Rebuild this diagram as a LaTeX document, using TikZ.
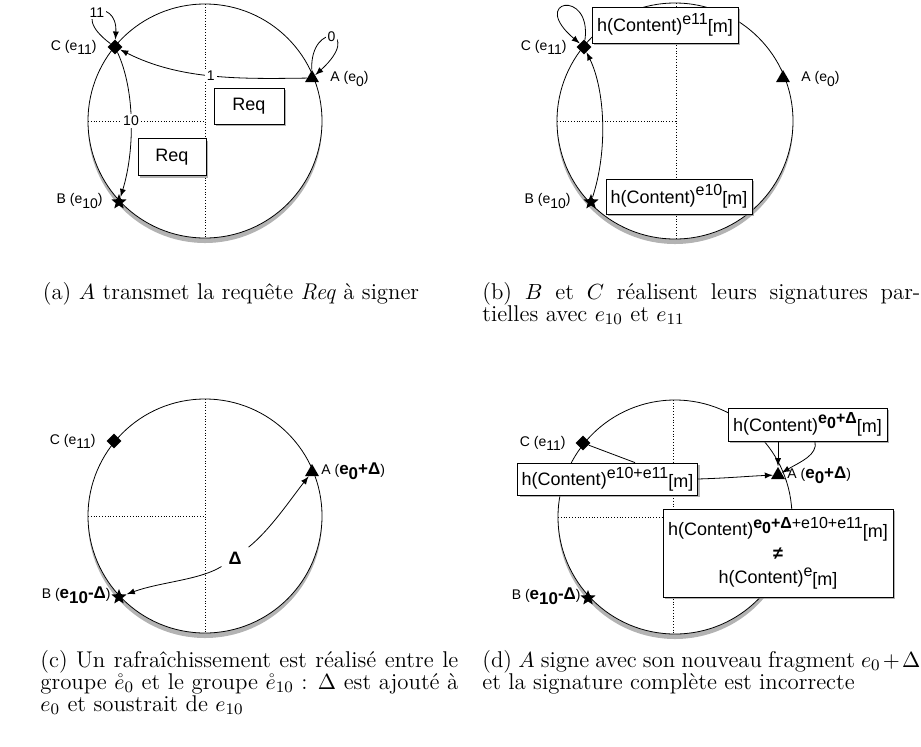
\documentclass[tikz,border=0pt]{standalone}
\usepackage{amsmath}
\usepackage{amssymb}
\usepackage{fontspec}
\newfontfamily\helv{Liberation Sans}
\usetikzlibrary{shapes.geometric,shadows}

\tikzset{
    ring/.style={draw, fill=white, drop shadow={shadow xshift=0pt, shadow yshift=-2.5pt, opacity=.6}},
    axe/.style={densely dotted},
    msg/.style={draw, fill=white, inner sep=2pt, font=\helv\fontsize{9}{11}\selectfont,
        drop shadow={shadow xshift=1.2pt, shadow yshift=-1.2pt, opacity=.6}},
    lbl/.style={inner sep=1pt, font=\helv\fontsize{7}{8}\selectfont},
    num/.style={fill=white, inner sep=1pt, font=\helv\fontsize{7}{8}\selectfont},
    legende/.style={inner sep=0pt, align=justify, font=\fontsize{11.4}{11}\selectfont},
    peerC/.style={diamond, fill, inner sep=0pt, minimum size=7.5pt},
    peerA/.style={regular polygon, regular polygon sides=3, fill, inner sep=0pt, minimum size=8pt},
    peerB/.style={star, star points=5, star point ratio=2.3, fill, inner sep=0pt, minimum size=8pt}
}
\newcommand{\sgdn}[1]{\raisebox{-0.55ex}{#1}}
\newcommand{\sgup}[1]{\raisebox{0.75ex}{\fontsize{8}{9}\selectfont #1}}
\newcommand{\hcont}[1]{h(Content)\sgup{#1}\raisebox{-0.15ex}{[m]}}
\newcommand{\bfe}[1]{\textbf{\fontsize{8.5}{9}\selectfont #1}}

\begin{document}
\begin{tikzpicture}[x=0.5pt, y=-0.5pt, >=latex]
        \useasboundingbox (0,0) rectangle (921,746);

        \draw[ring] (205,121) circle (117);
        \draw[axe] (205,4) -- (205,238);
        \draw[axe] (88,121) -- (205,121);
        \node[peerC] (Ca) at (115,47) {};
        \node[peerA] (Aa) at (312,78) {};
        \node[peerB] (Ba) at (119,202) {};
        \node[lbl, anchor=east] (lCa) at (99,47) {C (e\sgdn{11})};
        \node[lbl, anchor=west] (lAa) at (328,79) {A (e\sgdn{0})};
        \node[lbl, anchor=east] (lBa) at (105,201) {B (e\sgdn{10})};
        \node[msg, minimum width=35pt, minimum height=18pt] (req1) at (249,106) {Req};
        \node[msg, minimum width=34pt, minimum height=18.5pt] (req2) at (172,157) {Req};
        \draw[->] (Aa) .. controls (240,79) and (180,80) .. node[num]{1} (Ca);
        \draw[->] (Aa) .. controls (310,20) and (365,30) .. node[num]{0} (Aa);
        \draw[->] (Ca) .. controls (65,10) and (118,-5) .. node[num]{11} (Ca);
        \draw[->] (Ca) .. controls (135,90) and (135,150) .. node[num]{10} (Ba);
        \node[legende, anchor=north] (capa) at (231,282) {(a) $A$ transmet la requête \emph{Req} à signer};

        \draw[ring] (675,121) circle (118);
        \draw[axe] (676,3) -- (676,239);
        \draw[axe] (557,121) -- (676,121);
        \node[peerC] (Cb) at (584,47) {};
        \node[peerA] (Ab) at (783,78) {};
        \node[peerB] (Bb) at (591,202) {};
        \node[lbl, anchor=east] (lCb) at (569,47) {C (e\sgdn{11})};
        \node[lbl, anchor=west] (lAb) at (799,79) {A (e\sgdn{0})};
        \node[lbl, anchor=east] (lBb) at (573,201) {B (e\sgdn{10})};
        \node[msg, minimum width=73pt, minimum height=18pt] (sigC) at (665,25) {\hcont{e11}};
        \node[msg, minimum width=73pt, minimum height=17.5pt] (sigB) at (679,196.5) {\hcont{e10}};
        \draw[->] (Cb) .. controls (592,-12) and (528,0) .. (Cb);
        \draw[->] (Bb) .. controls (608,150) and (605,90) .. (Cb);
        \node[legende, anchor=north west, text width=219pt] (capb) at (482,282)
            {(b) $B$ et $C$ réalisent leurs signatures par-\linebreak tielles avec $e_{10}$ et $e_{11}$};

        \draw[ring] (205,516) circle (117);
        \draw[axe] (205,399) -- (205,633);
        \draw[axe] (88,516) -- (205,516);
        \node[peerC] (Cc) at (114,441) {};
        \node[peerA] (Ac) at (312,472) {};
        \node[peerB] (Bc) at (119,597) {};
        \node[lbl, anchor=east] (lCc) at (98,441) {C (e\sgdn{11})};
        \node[lbl, anchor=west] (lAc) at (319,471) {A (\bfe{e\sgdn{0}+Δ})};
        \node[lbl, anchor=east] (lBc) at (113,595) {B (\bfe{e\sgdn{10}-Δ})};
        \node[font=\helv\bfseries\fontsize{9}{10}\selectfont] (delta) at (235,558) {Δ};
        \draw[->] (delta) .. controls (270,530) and (290,500) .. (Ac);
        \draw[->] (delta) .. controls (200,580) and (160,582) .. (Bc);
        \node[legende, anchor=north west, text width=209pt] (capc) at (40,650)
            {(c) Un rafraîchissement est réalisé entre le\linebreak groupe $\mathring{e}_0$ et le groupe $\mathring{e}_{10}$ : $\Delta$ est ajouté à\linebreak $e_0$ et soustrait de $e_{10}$};

        \draw[ring] (675,517) circle (117);
        \draw[axe] (673,400) -- (673,634);
        \draw[axe] (558,517) -- (673,517);
        \node[peerC] (Cd) at (583,443) {};
        \node[peerA] (Ad) at (778,475) {};
        \node[peerB] (Bd) at (588,598) {};
        \node[lbl, anchor=east] (lCd) at (568,443) {C (e\sgdn{11})};
        \node[lbl, anchor=west] (lAd) at (785,475) {A (\bfe{e\sgdn{0}+Δ})};
        \node[lbl, anchor=east] (lBd) at (583,596) {B (\bfe{e\sgdn{10}-Δ})};
        \node[msg, minimum width=79.5pt, minimum height=16.5pt] (sigA) at (807.5,424.5) {\hcont{\textbf{e\sgdn{0}+Δ}}};
        \node[msg, minimum width=89.5pt, minimum height=16pt] (sigBC) at (607.5,479) {\hcont{e10+e11}};
        \node[msg, minimum width=115pt, minimum height=44pt, align=center] (verif) at (778,553)
            {\hcont{\textbf{e\sgdn{0}+Δ}+e10+e11}\\[1pt] \textbf{≠}\\[1pt] \hcont{e}};
        \draw (Cd) -- ([xshift=13.75pt]sigBC.north);
        \draw[->] (sigBC.east) .. controls (730,478) and (750,476) .. (Ad);
        \draw[->] (sigA.south -| Ad.north) -- (Ad.north);
        \draw[->] ([xshift=3.75pt]sigA.south) .. controls (818,455) and (800,462) .. (Ad);
        \node[legende, anchor=north west, text width=219pt] (capd) at (482,650)
            {(d) $A$ signe avec son nouveau fragment $e_0+\Delta$\linebreak et la signature complète est incorrecte};
    \end{tikzpicture}
\end{document}
